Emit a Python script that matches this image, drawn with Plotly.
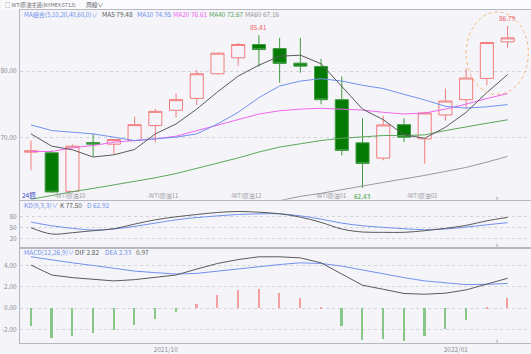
import plotly.graph_objects as go

# ---------------- data ----------------
weeks = list(range(24))
opens = [67.8, 67.7, 61.9, 69.25, 69.0, 69.55, 71.8, 74.1, 75.9, 79.6, 82.0, 84.0,
         83.4, 81.2, 80.7, 75.7, 69.2, 66.9, 71.94, 69.8, 73.4, 75.7, 78.9, 84.4]
closes = [68.0, 61.8, 68.7, 69.0, 69.7, 71.94, 73.94, 75.7, 79.6, 82.7, 84.0, 83.24,
          81.15, 80.75, 75.7, 68.06, 66.1, 71.9, 70.06, 73.7, 75.5, 78.96, 84.3, 85.0]
highs = [69.55, 68.06, 68.96, 70.55, 69.8, 73.13, 74.28, 76.6, 80.15, 82.75, 84.24, 85.41,
         85.0, 85.0, 81.85, 79.2, 72.9, 73.28, 72.9, 73.88, 77.37, 80.36, 84.45, 86.79]
lows = [65.07, 61.7, 61.7, 67.17, 67.42, 69.4, 69.3, 73.04, 74.9, 79.5, 80.85, 80.65,
        78.27, 79.76, 75.0, 67.3, 62.43, 66.57, 69.3, 66.07, 72.54, 74.28, 77.87, 83.5]

ma5 = [70.55, 68.7, 68.16, 67.07, 67.4, 68.2, 70.55, 72.04, 74.28, 76.87, 79.25, 80.9,
       82.24, 82.4, 81.1, 77.76, 74.28, 72.69, 70.4, 69.9, 71.55, 73.8, 76.77, 79.48]
ma10 = [71.9, 71.05, 70.8, 70.55, 70.06, 69.55, 69.8, 70.06, 70.55, 72.04, 73.8, 76.0,
        77.76, 78.5, 78.86, 78.5, 77.87, 77.37, 76.5, 75.67, 74.7, 74.43, 74.63, 74.95]
ma20 = [67.9, 67.9, 68.46, 68.8, 69.3, 69.55, 69.8, 70.2, 71.05, 71.9, 72.8, 73.54,
        74.03, 74.28, 74.4, 74.28, 74.13, 73.8, 73.54, 73.69, 74.28, 75.03, 75.88, 76.61]
ma40 = [60.7, 61.3, 61.85, 62.34, 62.84, 63.34, 63.94, 64.58, 65.33, 66.07, 66.93, 67.82,
        68.57, 69.06, 69.55, 69.9, 70.15, 70.3, 70.3, 70.4, 71.05, 71.55, 72.15, 72.67]
ma60 = [None] * 12 + [60.5, 61.15, 61.6, 62.1, 62.7, 63.25, 63.75, 64.3, 64.9, 65.5, 66.3, 67.16]

k_vals = [49, 31.7, 35.3, 40.8, 46.2, 59, 70.7, 79, 85.4, 90.9, 93.6, 91.7,
          87.3, 78.1, 63.6, 45.4, 37.2, 36.3, 36.3, 40.8, 47.3, 55.4, 68, 77.5]
d_vals = [64.5, 54.4, 47.3, 42.6, 45.4, 52.7, 61.7, 70.7, 77, 81.6, 85.4, 87.3,
          87.3, 81.6, 72.6, 61.7, 54.4, 50, 46.2, 43.5, 45.4, 50.8, 57, 62.92]

dif = [4.07, 3.13, 2.88, 2.69, 2.57, 2.69, 2.88, 3.13, 3.69, 4.22, 4.59, 4.85,
       4.85, 4.75, 4.28, 3.19, 2.16, 1.78, 1.38, 1.31, 1.41, 1.72, 2.25, 2.82]
dea = [4.85, 4.54, 4.28, 4.03, 3.75, 3.5, 3.35, 3.22, 3.28, 3.5, 3.72, 3.91,
       4.12, 4.28, 4.22, 3.97, 3.6, 3.19, 2.88, 2.57, 2.38, 2.22, 2.25, 2.33]
macd_hist = [-1.69, -2.81, -2.62, -2.34, -2.09, -1.59, -1.03, -0.4, 0.375, 1.22, 1.75, 1.85,
             1.47, 1.0, 0.05, -1.69, -3.0, -2.94, -3.12, -2.59, -1.97, -1.12, 0.1, 0.97]

month_ticks = [6.5, 20.5]
month_labels = ["2021/10", "2022/01"]
contract_pos = [1.0, 5.5, 9.5, 13.6, 18.0]
contract_labels = ["WTI原油10", "WTI原油11", "WTI原油12", "WTI原油01", "WTI原油02"]

# ---------------- style ----------------
W, H = 531, 354
L = 18
FONT = "Noto Sans CJK TC, Noto Sans, sans-serif"
RED = "#f27c7c"
GREEN_FILL = "#057a05"
GREEN_LINE = "#3f9a3f"
C_MA5 = "#5a5a5a"
C_MA10 = "#7090ee"
C_MA20 = "#ee66ee"
C_MA40 = "#5aa65a"
C_MA60 = "#9a9a9a"
BG = "#f5f5f9"
GRID = "#d2d2da"
AXC = "#b8b8c2"
TICKC = "#8a8a92"


def px(x):
    return (x - L) / (W - L)


def py(y):
    return 1 - y / H


fig = go.Figure()

fig.add_trace(go.Candlestick(
    x=weeks, open=opens, high=highs, low=lows, close=closes,
    increasing=dict(line=dict(color=RED, width=1), fillcolor=BG),
    decreasing=dict(line=dict(color=GREEN_LINE, width=1), fillcolor=GREEN_FILL),
    whiskerwidth=0, xaxis="x", yaxis="y", showlegend=False, hoverinfo="skip"))

for vals, col in [(ma60, C_MA60), (ma40, C_MA40), (ma20, C_MA20), (ma10, C_MA10), (ma5, C_MA5)]:
    fig.add_trace(go.Scatter(x=weeks, y=vals, mode="lines", line=dict(color=col, width=1),
                             xaxis="x", yaxis="y", showlegend=False, hoverinfo="skip"))

fig.add_trace(go.Scatter(x=weeks, y=d_vals, mode="lines", line=dict(color=C_MA10, width=1, shape="spline"),
                         xaxis="x2", yaxis="y2", showlegend=False))
fig.add_trace(go.Scatter(x=weeks, y=k_vals, mode="lines", line=dict(color=C_MA5, width=1, shape="spline"),
                         xaxis="x2", yaxis="y2", showlegend=False))

fig.add_trace(go.Bar(x=weeks, y=macd_hist, width=0.08,
                     marker=dict(color=["#f4a0a0" if v >= 0 else "#86c686" for v in macd_hist], line_width=0),
                     xaxis="x3", yaxis="y3", showlegend=False))
fig.add_trace(go.Scatter(x=weeks, y=dea, mode="lines", line=dict(color=C_MA10, width=1),
                         xaxis="x3", yaxis="y3", showlegend=False))
fig.add_trace(go.Scatter(x=weeks, y=dif, mode="lines", line=dict(color=C_MA5, width=1),
                         xaxis="x3", yaxis="y3", showlegend=False))

xr = [-0.53, 24.13]
dom_main = [py(201.5), py(10)]
dom_kd = [py(249), py(203)]
dom_macd = [py(345.7), py(251)]

xcommon = dict(range=xr, showgrid=False, zeroline=False, showline=True, linecolor=AXC,
               linewidth=1, mirror=True, fixedrange=True)
ycommon = dict(showgrid=True, gridcolor=GRID, griddash="dot", gridwidth=1, zeroline=False,
               showline=True, linecolor=AXC, linewidth=1, ticks="",
               tickfont=dict(size=6.5, color=TICKC, family=FONT), ticklabelstandoff=1)

fig.update_layout(
    width=W, height=H, margin=dict(l=L, r=0, t=0, b=0),
    paper_bgcolor=BG, plot_bgcolor=BG, boxgap=0.1, bargap=0,
    font=dict(family=FONT, size=7),
    xaxis=dict(**xcommon, domain=[0, 1], anchor="y", showticklabels=False, rangeslider=dict(visible=False)),
    yaxis=dict(**ycommon, domain=dom_main, anchor="x", range=[60.63, 89.21],
               tickvals=[70, 80], ticktext=["70.00", "80.00"]),
    xaxis2=dict(**xcommon, domain=[0, 1], anchor="y2", showticklabels=False),
    yaxis2=dict(**ycommon, domain=dom_kd, anchor="x2", range=[-3.7, 121.7],
                tickvals=[20, 50, 80], ticktext=["20", "50", "80"]),
    xaxis3=dict(**xcommon, domain=[0, 1], anchor="y3", tickvals=month_ticks, ticktext=month_labels,
                ticks="", tickfont=dict(size=6.5, color=TICKC, family=FONT)),
    yaxis3=dict(**ycommon, domain=dom_macd, anchor="x3", range=[-3.28, 5.6],
                tickvals=[-2, 0, 2, 4], ticktext=["-2.00", "0.00", "2.00", "4.00"]),
)

shapes = []
# header strip
shapes.append(dict(type="rect", xref="paper", yref="paper", x0=px(0), x1=px(W), y0=py(10), y1=1,
                   fillcolor="#fbfbfd", line=dict(width=0), layer="below"))
# highlight ellipse around last candles
shapes.append(dict(type="circle", xref="x", yref="y", x0=21.0, x1=24.0, y0=76.5, y1=88.9,
                   line=dict(color="#f5b26e", width=1, dash="dot")))
# small ticks near the right
for yb in [201.5, 249, 345.7]:
    shapes.append(dict(type="line", xref="paper", yref="paper", x0=px(497), x1=px(497),
                       y0=py(yb), y1=py(yb - 3), line=dict(color="#a0a0a8", width=1)))
fig.update_layout(shapes=shapes)

ann = []


def txt(x, y, s, color, size=6.5, anchor="left"):
    ann.append(dict(xref="paper", yref="paper", x=px(x), y=py(y), text=s, showarrow=False,
                    xanchor=anchor, yanchor="middle", font=dict(size=size, color=color, family=FONT)))


# header
txt(1, 5, "□ WTI原油主連(NYMEX 6713)", "#6a6a72", 5.3)
txt(82, 5, "周線∨", "#5a5a62", 5.8)
# MA legend
x0 = 20
for s, c, w, fs in [("MA組合(5,10,20,40,60,0)∨", C_MA10, 78, 6.1), ("MA5 79.48", C_MA5, 35, 6.5),
                    ("MA10 74.95", C_MA10, 37, 6.5), ("MA20 76.61", C_MA20, 36, 6.5),
                    ("MA40 72.67", C_MA40, 36, 6.5), ("MA60 67.16", C_MA60, 36, 6.5)]:
    txt(x0, 14.5, s, c, fs)
    x0 += w
# KD legend
txt(20, 206.5, "KD(9,3,3)∨", C_MA10)
txt(56, 206.5, "K 77.50", C_MA5)
txt(83, 206.5, "D 62.92", C_MA10)
# MACD legend
txt(20, 254.5, "MACD(12,26,9)∨", C_MA10)
txt(71, 254.5, "DIF 2.82", C_MA5)
txt(101, 254.5, "DEA 2.33", C_MA10)
txt(132, 254.5, "0.97", C_MA5)
# weeks label
txt(18.5, 197, "24週", "#3a4ec8", 6.5)

# contract roll labels
for p, s in zip(contract_pos, contract_labels):
    ann.append(dict(xref="x", yref="paper", x=p, y=py(197), text="-" + s, showarrow=False,
                    xanchor="left", yanchor="middle", font=dict(size=6, color="#9a9aa2", family=FONT)))

# high / low labels
ann.append(dict(xref="x", yref="y", x=11, y=highs[11], text="85.41", showarrow=False, yanchor="bottom",
                yshift=1, font=dict(size=6.5, color="#ee5a64", family=FONT)))
ann.append(dict(xref="x", yref="y", x=23, y=highs[23], text="86.79", showarrow=False, yanchor="bottom",
                yshift=1, font=dict(size=6.5, color="#ee5a64", family=FONT)))
ann.append(dict(xref="x", yref="y", x=16, y=lows[16], text="62.43", showarrow=False, yanchor="top",
                yshift=-1, font=dict(size=6.5, color="#3aa03a", family=FONT)))

fig.update_layout(annotations=ann)

fig.write_html("out.html")
